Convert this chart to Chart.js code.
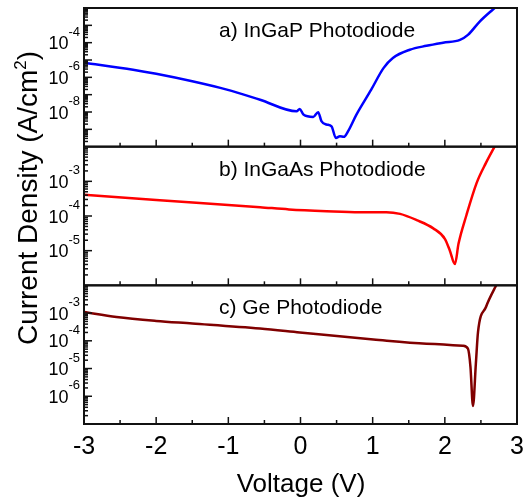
<!DOCTYPE html>
<html>
<head>
<meta charset="utf-8">
<script src="https://cdn.jsdelivr.net/npm/chart.js@4/dist/chart.umd.min.js"></script>
<style>
  html, body { margin: 0; padding: 0; background: #fff; }
</style>
</head>
<body>
<canvas id="chart" width="523" height="500"></canvas>
<script>
// InGaP photodiode (panel a)
const ingapV = [-3, -2.32, -2.0, -1.5, -1.02, -0.56, -0.055, -0.01, 0.04, 0.176, 0.245, 0.29, 0.36, 0.43, 0.49, 0.546, 0.60, 0.66, 0.775, 0.98, 1.15, 1.28, 1.515, 1.745, 1.976, 2.21, 2.32, 2.48, 2.67, 2.8]
const ingapJ = [6.9e-6, 2.75e-6, 1.6e-6, 5.9e-7, 1.95e-7, 5.1e-8, 1.1e-8, 1.5e-8, 7.1e-9, 5.2e-9, 9.8e-9, 3.0e-9, 1.9e-9, 1.5e-9, 3.2e-10, 4.0e-10, 3.7e-10, 7.9e-10, 7.1e-9, 1.95e-7, 3.4e-6, 1.3e-5, 3.9e-5, 6.6e-5, 1.0e-4, 1.45e-4, 2.8e-4, 1.6e-3, 8.5e-3, 2.5e-2]

// InGaAs photodiode (panel b)
const ingaasV = [-3, -2, -0.56, -0.16, 0.36, 0.82, 1.19, 1.38, 1.61, 1.84, 2.0, 2.07, 2.14, 2.19, 2.30, 2.44, 2.57, 2.69, 2.8]
const ingaasJ = [4.1e-4, 2.9e-4, 1.8e-4, 1.55e-4, 1.38e-4, 1.29e-4, 1.29e-4, 1.15e-4, 7.6e-5, 4.4e-5, 2.2e-5, 1.0e-5, 4.1e-6, 1.6e-5, 1.07e-4, 8.9e-4, 3.4e-3, 1.0e-2, 2.5e-2]

// Ge photodiode (panel c)
const geV = [-3, -2.55, -2, -1.5, -0.56, -0.01, 1.01, 1.745, 2.25, 2.32, 2.355, 2.39, 2.43, 2.46, 2.57, 2.70, 2.8]
const geJ = [1.1e-3, 7.2e-4, 5.2e-4, 4.2e-4, 2.75e-4, 2.0e-4, 1.12e-4, 7.9e-5, 6.6e-5, 5.2e-5, 1.15e-5, 4.5e-7, 1.5e-5, 2.1e-4, 1.66e-3, 8.7e-3, 2.5e-2]

const xTicks = [-3, -2, -1, 0, 1, 2, 3]
const panelNames = ['a) InGaP Photodiode', 'b) InGaAs Photodiode', 'c) Ge Photodiode']
const yLabelDecades = [[-4, -6, -8], [-3, -4, -5], [-3, -4, -5, -6]]

const FONT = "'Liberation Sans', Arial, sans-serif"
const axisIds = ['ya', 'yb', 'yc']

const toPoints = (xs, ys) => xs.map((v, i) => ({ x: v, y: ys[i] }))

function lineSet(xs, ys, color, axis) {
  return {
    data: toPoints(xs, ys),
    yAxisID: axis,
    borderColor: color,
    borderWidth: 2.5,
    pointRadius: 0,
    cubicInterpolationMode: 'monotone',
    clip: 0
  }
}

function logAxis(min, max) {
  return {
    type: 'logarithmic',
    position: 'left',
    stack: 'jv',
    stackWeight: 1,
    min: min,
    max: max,
    grid: { display: false },
    border: { display: false },
    ticks: { display: false },
    afterFit: (s) => { s.width = 84 }
  }
}

// frame, inward ticks and labels
const framePlugin = {
  id: 'frame',
  afterDatasetsDraw(chart) {
    const { ctx, chartArea: a, scales } = chart
    const xs = scales.x
    ctx.save()
    ctx.strokeStyle = '#111'
    ctx.fillStyle = '#000'
    ctx.lineWidth = 1.5

    axisIds.forEach((id, k) => {
      const ys = scales[id]
      // x ticks along the bottom of each panel
      xTicks.forEach(v => {
        [v, v + 0.5].forEach((t, j) => {
          if (t > 3) return
          const px = xs.getPixelForValue(t)
          const len = j === 0 ? 7 : 4
          ctx.beginPath()
          ctx.moveTo(px, ys.bottom)
          ctx.lineTo(px, ys.bottom - len)
          ctx.stroke()
        })
      })
      // log ticks on the left edge
      const lo = Math.round(Math.log10(ys.min))
      const hi = Math.round(Math.log10(ys.max))
      for (let d = lo; d < hi; d++) {
        for (let m = 1; m <= 9; m++) {
          const val = m * Math.pow(10, d)
          if (m === 1 && d === lo) continue
          const py = ys.getPixelForValue(val)
          ctx.beginPath()
          ctx.moveTo(a.left, py)
          ctx.lineTo(a.left + (m === 1 ? 8 : 4), py)
          ctx.stroke()
        }
      }
      // tick labels 10^n
      yLabelDecades[k].forEach(d => {
        const py = ys.getPixelForValue(Math.pow(10, d))
        const sup = String(d)
        ctx.textAlign = 'right'
        ctx.textBaseline = 'alphabetic'
        ctx.font = '13px ' + FONT
        const right = a.left - 4
        ctx.fillText(sup, right, py - 7)
        const w = ctx.measureText(sup).width
        ctx.font = '18px ' + FONT
        ctx.fillText('10', right - w, py + 6.5)
      })
      // panel title
      ctx.font = '21px ' + FONT
      ctx.textAlign = 'left'
      ctx.fillText(panelNames[k], xs.getPixelForValue(-1.13), ys.top + 29)
      // panel frame
      ctx.lineWidth = 2
      ctx.strokeRect(a.left, ys.top, a.right - a.left, ys.bottom - ys.top)
      ctx.lineWidth = 1.5
    })

    // x tick labels
    ctx.font = '25px ' + FONT
    ctx.textAlign = 'center'
    ctx.textBaseline = 'alphabetic'
    xTicks.forEach(v => {
      ctx.fillText(String(v), xs.getPixelForValue(v), a.bottom + 30)
    })

    // axis titles
    ctx.font = '26px ' + FONT
    ctx.fillText('Voltage (V)', (a.left + a.right) / 2 + 0.5, 492)

    ctx.translate(37, 198)
    ctx.rotate(-Math.PI / 2)
    ctx.font = '28px ' + FONT
    const p1 = 'Current Density (A/cm'
    const p3 = ')'
    const w1 = ctx.measureText(p1).width
    const w3 = ctx.measureText(p3).width
    ctx.font = '17px ' + FONT
    const w2 = ctx.measureText('2').width
    const start = -(w1 + w2 + w3) / 2
    ctx.textAlign = 'left'
    ctx.fillText('2', start + w1, -11)
    ctx.font = '28px ' + FONT
    ctx.fillText(p1, start, 0)
    ctx.fillText(p3, start + w1 + w2, 0)
    ctx.restore()
  }
}

new Chart(document.getElementById('chart'), {
  type: 'line',
  data: {
    datasets: [
      lineSet(ingapV, ingapJ, '#0000ff', 'ya'),
      lineSet(ingaasV, ingaasJ, '#ff0000', 'yb'),
      lineSet(geV, geJ, '#800000', 'yc')
    ]
  },
  options: {
    responsive: false,
    animation: false,
    layout: { padding: { top: 8, right: 6, left: 0, bottom: 0 } },
    plugins: { legend: { display: false }, tooltip: { enabled: false } },
    scales: {
      x: {
        type: 'linear',
        min: -3,
        max: 3,
        grid: { display: false },
        border: { display: false },
        ticks: { display: false },
        afterFit: (s) => { s.height = 76 }
      },
      // stacked axes are placed bottom-up in definition order
      yc: logAxis(1e-7, 1e-2),
      yb: logAxis(1e-6, 1e-2),
      ya: logAxis(1e-10, 1e-2)
    }
  },
  plugins: [framePlugin]
})
</script>
</body>
</html>
